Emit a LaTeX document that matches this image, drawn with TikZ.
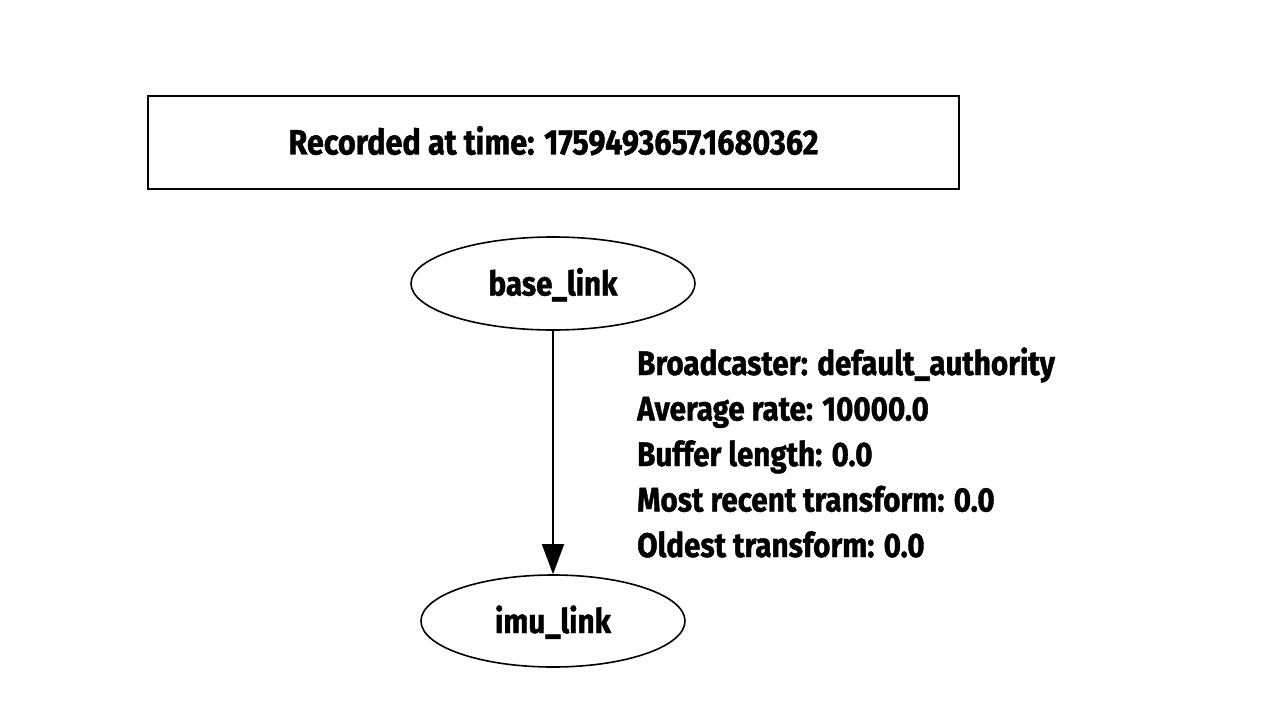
\documentclass[tikz,border=0pt]{standalone}
\usepackage{fontspec}
\setmainfont{Fira Sans}[FakeStretch=0.87, BoldFeatures={FakeBold=1.2}]
\usetikzlibrary{shapes.geometric,arrows.meta}
\begin{document}
\begin{tikzpicture}[x=1pt,y=-1pt]
		\tikzset{txt/.style = {font=\bfseries\fontsize{34}{45.5}\selectfont}}
		\tikzset{frame/.style = {draw, ellipse, line width=1.6pt, txt, inner sep=0pt,
				minimum width=284pt, minimum height=93pt, text height=24pt, text depth=0pt}}
		\tikzset{edge/.style = {-{Triangle[length=30pt,width=22pt]}, line width=1.6pt}}
		
		\useasboundingbox (0,0) rectangle (1265,711);
		
		\node[draw, line width=1.6pt, font=\bfseries\fontsize{35.2}{45.5}\selectfont, minimum width=811pt, minimum height=93pt,
			text height=24pt, text depth=0pt] (stamp) at (553.5,142.5) {Recorded at time: 1759493657.1680362};
		
		\node[frame] (base) at (553,283.5) {base\_link};
		\node[frame, minimum width=264pt, minimum height=92pt] (imu) at (553,621) {imu\_link};
		
		% last line sits on the anchor
		\node[txt, align=left, anchor=base west, inner sep=0pt] (info) at (637,557)
			{Broadcaster: default\_authority\\Average rate: 10000.0\\Buffer length: 0.0\\Most recent transform: 0.0\\Oldest transform: 0.0};
		
		\draw[edge] (base) to (imu);
\end{tikzpicture}
\end{document}
